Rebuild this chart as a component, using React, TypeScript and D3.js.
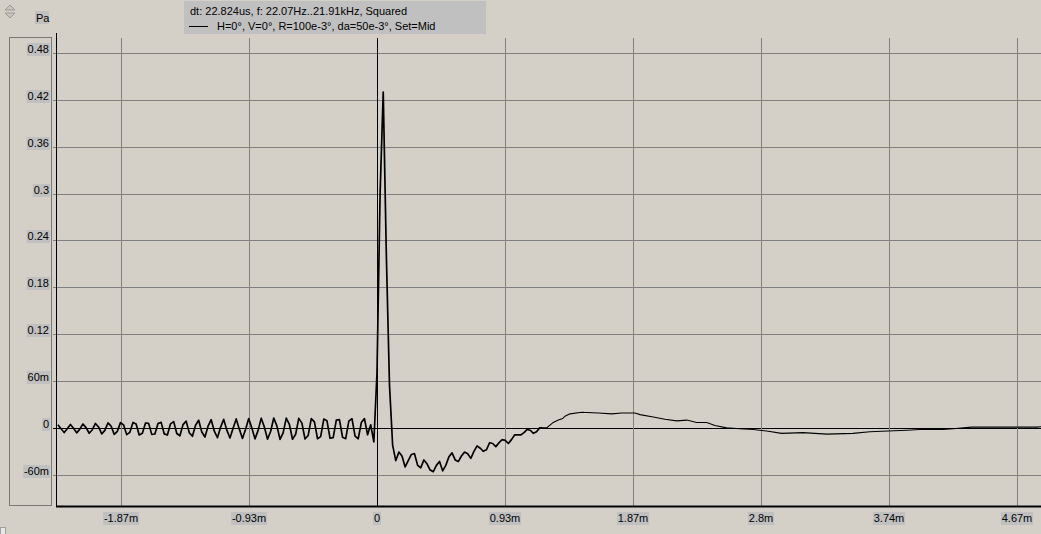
import React from "react";
import * as d3 from "d3";

// sample spacing in ms (from the legend: dt 22.824us)
const dt = 0.022824;
const firstSampleIndex = -102;

// pre-trigger ringing, one sample per dt, in mPa
const preTriggerMPa = [
  4, -1, -6, -1,
  4.4, -0.5, -6.4, -1.6,
  4.9, 0.3, -6.9, -2.3,
  5.7, 1.2, -7.7, -3.2,
  6.3, 2.4, -8.3, -4.4,
  6.7, 3.7, -8.7, -5.7,
  7, 5, -9, -7,
  6.3, 5.8, -8.3, -7.8,
  5.7, 7.1, -7.7, -9.1,
  5.2, 8.1, -7.2, -10.1,
  4.2, 8.7, -6.2, -10.7,
  3.3, 9.7, -5.3, -11.7,
  2.2, 10.5, -4.2, -12.5,
  0.9, 10.9, -2.9, -12.9,
  -0.4, 11.5, -1.6, -13.5,
  -1.7, 12, -0.3, -14,
  -3.2, 12.4, 1.2, -14.4,
  -4.6, 12.6, 2.6, -14.6,
  -6.4, 12.5, 4.4, -14.5,
  -8.1, 12.2, 6.1, -14.2,
  -9.7, 11.9, 7.7, -13.9,
  -11.2, 11.3, 9.2, -13.3,
  -12.5, 10, 10.5, -12,
  -13.8, 8.6, 11.8, -10.6,
  -13.9, 6.8, 11.9, -8.8,
  4, -18,
];

// the pulse and the ringing after it, continuing from t = 0, in mPa
const pulseMPa = [
  70, 300, 430, 220, 55,
  -22, -42, -31, -36, -50, -42, -34, -33, -48, -51,
  -41, -46, -54, -56, -48, -43, -55, -48, -37, -32,
  -41, -43, -36, -31, -33, -39, -30, -23, -26, -30,
  -28, -19, -20, -24, -19, -15, -16, -20, -15, -9,
  -9, -9, -6, -2, -3, -7, -5, 0, 0,
];

// slow tail, ms / mPa
const tailTimesMs = [
  1.238, 1.286, 1.323, 1.355, 1.372, 1.408, 1.494, 1.615, 1.713, 1.785,
  1.883, 1.919, 2.016, 2.101, 2.187, 2.26, 2.333, 2.406, 2.466, 2.552,
  2.649, 2.746, 2.843, 2.953, 3.108, 3.281, 3.473, 3.597, 3.865, 3.962,
  4.13, 4.203, 4.339, 4.546, 4.814, 4.874,
];
const tailMPa = [
  0, 7, 10, 12, 15, 18, 20, 19, 18, 19,
  19, 17, 14, 11, 9, 10, 7, 7, 3, 0,
  -1, -2, -4, -7, -6, -8, -7, -5, -3, -2,
  -2, -1, 1, 1, 1, 2,
];

const yTickValues = [-0.06, 0, 0.06, 0.12, 0.18, 0.24, 0.3, 0.36, 0.42, 0.48];
const yTickLabels = ["-60m", "0", "60m", "0.12", "0.18", "0.24", "0.3", "0.36", "0.42", "0.48"];
const xTickValues = [-1.868, -0.934, 0, 0.934, 1.868, 2.802, 3.736, 4.67];
const xTickLabels = ["-1.87m", "-0.93m", "0", "0.93m", "1.87m", "2.8m", "3.74m", "4.67m"];

const unitLabel = "Pa";
const legendTitle = "dt: 22.824us, f: 22.07Hz..21.91kHz, Squared";
const legendSeries = "H=0°, V=0°, R=100e-3°, da=50e-3°, Set=Mid";

const W = 1041;
const H = 534;
const plot = { left: 56, right: 1041, top: 33, bottom: 506 };
const font = "'Liberation Sans', Arial, sans-serif";
const bg = "#d4d0c8";
const labelBg = "#c0c0c0";
const grid = "#808080";

// rough text width for label boxes
const textW = (s: string) =>
  d3.sum(s.split(""), (c) => (c === "." ? 3 : c === "-" ? 3.7 : c === "m" ? 9 : 6.1));

interface Pt {
  t: number;
  p: number;
}

export default function App() {
  const x = d3.scaleLinear().domain([-2.342, 4.845]).range([plot.left, plot.right]);
  const y = d3.scaleLinear().domain([-0.1, 0.5056]).range([plot.bottom, plot.top]);

  const sampled: Pt[] = [...preTriggerMPa, ...pulseMPa].map((v, i) => ({
    t: (firstSampleIndex + i) * dt,
    p: v / 1000,
  }));
  const tail: Pt[] = tailTimesMs.map((t, i) => ({ t, p: tailMPa[i] / 1000 }));

  const line = d3
    .line<Pt>()
    .x((d) => x(d.t))
    .y((d) => y(d.p));

  return (
    <svg
      width={W}
      height={H}
      style={{ position: "absolute", left: 0, top: 0, display: "block" }}
      fontFamily={font}
      fontSize={11}
    >
      <rect width={W} height={H} fill={bg} />

      {/* scroll arrows, top left */}
      <path d="M5,10 L10,5 L15,10 Z" fill="#c8c4bc" stroke="#9a9a9a" />
      <path d="M5,13 L10,18 L15,13 Z" fill="#c8c4bc" stroke="#9a9a9a" />
      <rect x={0.5} y={527.5} width={5} height={7} fill="#e8e8e8" stroke="#a0a0a0" />

      {/* unit */}
      <rect x={35} y={11} width={14} height={13} fill={labelBg} />
      <text x={36} y={21.5}>{unitLabel}</text>

      {/* horizontal grid */}
      {yTickValues.map((v) => (
        <line
          key={"h" + v}
          x1={53}
          x2={plot.right}
          y1={Math.round(y(v)) + 0.5}
          y2={Math.round(y(v)) + 0.5}
          stroke={v === 0 ? "#000" : grid}
        />
      ))}

      {/* vertical grid */}
      {xTickValues.map((v) => (
        <line
          key={"v" + v}
          x1={Math.round(x(v)) + 0.5}
          x2={Math.round(x(v)) + 0.5}
          y1={38}
          y2={plot.bottom}
          stroke={v === 0 ? "#000" : grid}
        />
      ))}

      {/* axes */}
      <line x1={plot.left + 0.5} x2={plot.left + 0.5} y1={plot.top} y2={plot.bottom} stroke="#000" />
      <line x1={plot.left} x2={plot.right} y1={plot.bottom + 0.5} y2={plot.bottom + 0.5} stroke="#000" strokeWidth={2} />

      {/* y labels */}
      <rect x={9.5} y={37.5} width={42} height={468} fill="none" stroke="#202020" strokeDasharray="1,1" />
      {yTickValues.map((v, i) => {
        const yy = Math.round(y(v));
        const w = textW(yTickLabels[i]) + 2;
        return (
          <g key={"yl" + v}>
            <rect x={50 - w} y={yy - 10} width={w} height={13} fill={labelBg} />
            <text x={49} y={yy} textAnchor="end">
              {yTickLabels[i]}
            </text>
          </g>
        );
      })}

      {/* x labels */}
      {xTickValues.map((v, i) => {
        const xx = Math.round(x(v));
        const w = textW(xTickLabels[i]) + 2;
        return (
          <g key={"xl" + v}>
            <rect x={xx - w / 2} y={512} width={w} height={13} fill={labelBg} />
            <text x={xx} y={522} textAnchor="middle">
              {xTickLabels[i]}
            </text>
          </g>
        );
      })}

      {/* trace: sampled part, then the slow tail */}
      <path d={line(sampled) || ""} fill="none" stroke="#000" strokeWidth={1.7} strokeLinejoin="round" />
      <path d={line([sampled[sampled.length - 1], ...tail]) || ""} fill="none" stroke="#000" strokeWidth={1.1} />

      {/* legend */}
      <rect x={184} y={1} width={302} height={33} fill={labelBg} />
      <text x={190} y={15}>{legendTitle}</text>
      <line x1={189} x2={208} y1={26.5} y2={26.5} stroke="#000" />
      <text x={217} y={30}>{legendSeries}</text>
    </svg>
  );
}
